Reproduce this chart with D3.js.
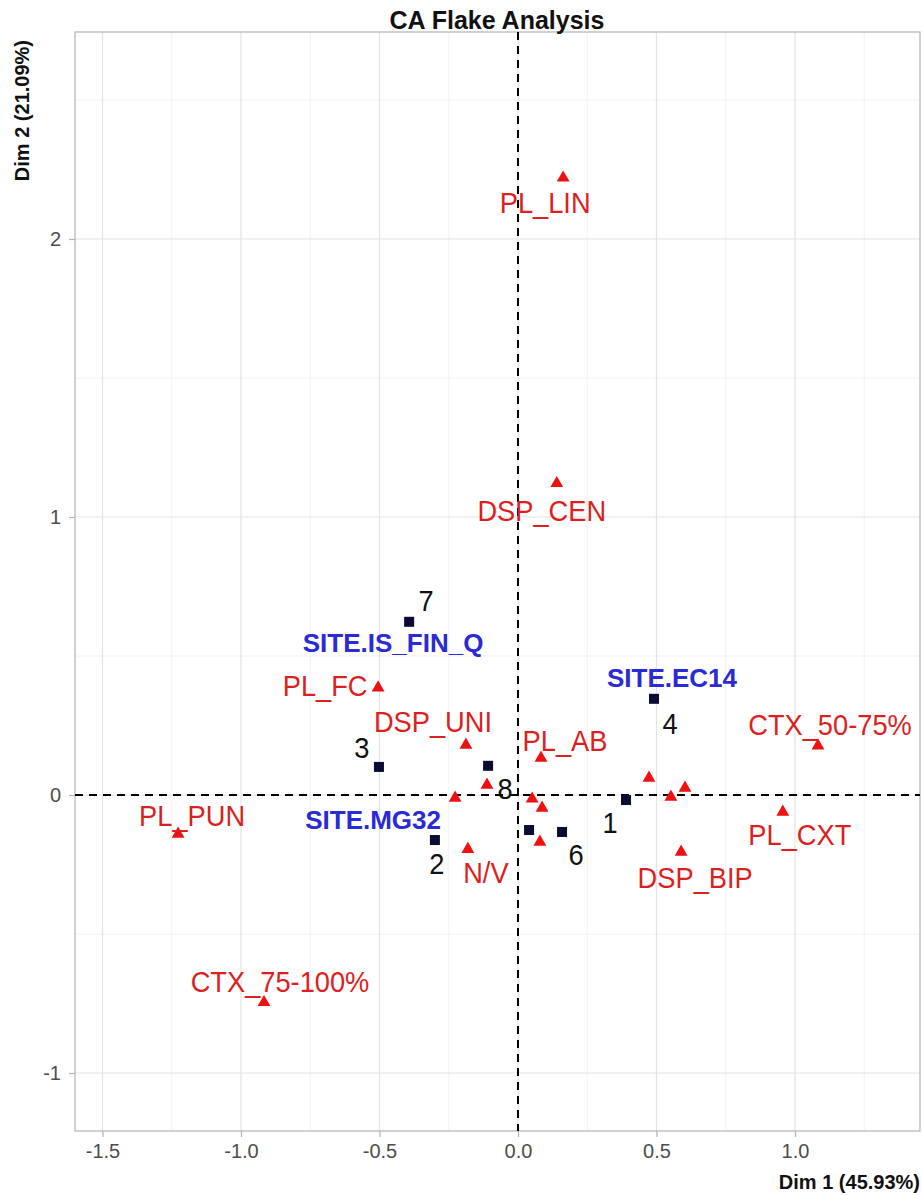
<!DOCTYPE html>
<html><head><meta charset="utf-8">
<script src="https://cdn.jsdelivr.net/npm/d3@7/dist/d3.min.js"></script>
<style>body{margin:0;background:#fff}svg{display:block}text{font-family:"Liberation Sans",Arial,sans-serif}</style>
</head><body>
<svg id="c" width="922" height="1195"></svg>
<script>
// Column categories (red triangles)
const colNames = ["PL_LIN","DSP_CEN","PL_FC","DSP_UNI","PL_AB","CTX_50-75%","PL_PUN","CTX_75-100%","PL_CXT","DSP_BIP","N/V","","","","","","","",""];
const colX = [0.163,0.140,-0.505,-0.188,0.083,1.083,-1.227,-0.917,0.956,0.589,-0.181,-0.227,-0.112,0.473,0.603,0.552,0.051,0.087,0.079];
const colY = [2.220,1.121,0.386,0.180,0.133,0.177,-0.140,-0.746,-0.061,-0.205,-0.195,-0.011,0.036,0.061,0.025,-0.007,-0.014,-0.047,-0.169];
// Row points (dark squares)
const rowNames = ["1","2","3","4","","6","7","8"];
const rowX = [0.390,-0.300,-0.502,0.491,0.040,0.159,-0.393,-0.108];
const rowY = [-0.018,-0.162,0.101,0.346,-0.126,-0.133,0.623,0.105];
// Site annotations
const siteNames = ["SITE.IS_FIN_Q","SITE.EC14","SITE.MG32"];
const siteX = [-0.451,0.556,-0.523];
const siteY = [0.548,0.422,-0.090];
// Tick labels
const xTicks = [-1.5,-1.0,-0.5,0.0,0.5,1.0];
const xTickLabels = ["-1.5","-1.0","-0.5","0.0","0.5","1.0"];
const yTicks = [-1,0,1,2];
const yTickLabels = ["-1","0","1","2"];
const xMinor = [-1.25,-0.75,-0.25,0.25,0.75,1.25];
const yMinor = [-0.5,0.5,1.5,2.5];

// label offsets in px (layout)
const colOff = {"PL_LIN":[-18,25],"DSP_CEN":[-15,27],"PL_FC":[-53,-2],"DSP_UNI":[-33,-23],"PL_AB":[24,-17],"CTX_50-75%":[12,-21],"PL_PUN":[14,-18],"CTX_75-100%":[16,-21],"PL_CXT":[17,23],"DSP_BIP":[14,26],"N/V":[18,23]};
const rowOff = {"1":[-16,23],"2":[2,24],"3":[-17,-19],"4":[16,25],"6":[14,23],"7":[17,-21],"8":[17,23]};

const L=75,R=920,T=32,B=1131;
const PX=277, X0=518, PY=278, Y0=795;
const x = d3.scaleLinear().domain([(L-X0)/PX,(R-X0)/PX]).range([L,R]);
const y = d3.scaleLinear().domain([(Y0-B)/PY,(Y0-T)/PY]).range([B,T]);
const svg = d3.select("#c");

// grid
const g = svg.append("g");
g.selectAll(".xm").data(xMinor).join("line").attr("x1",d=>x(d)).attr("x2",d=>x(d)).attr("y1",T).attr("y2",B).attr("stroke","#f2f2f2").attr("stroke-width",1);
g.selectAll(".ym").data(yMinor).join("line").attr("y1",d=>y(d)).attr("y2",d=>y(d)).attr("x1",L).attr("x2",R).attr("stroke","#f2f2f2").attr("stroke-width",1);
g.selectAll(".xM").data(xTicks).join("line").attr("x1",d=>x(d)).attr("x2",d=>x(d)).attr("y1",T).attr("y2",B).attr("stroke","#e3e3e3").attr("stroke-width",1.2);
g.selectAll(".yM").data(yTicks).join("line").attr("y1",d=>y(d)).attr("y2",d=>y(d)).attr("x1",L).attr("x2",R).attr("stroke","#e3e3e3").attr("stroke-width",1.2);

// axes
const xa = svg.append("g").attr("transform",`translate(0,${B})`)
  .call(d3.axisBottom(x).tickValues(xTicks).tickFormat((d,i)=>xTickLabels[i]).tickSize(6).tickPadding(7));
const ya = svg.append("g").attr("transform",`translate(${L},0)`)
  .call(d3.axisLeft(y).tickValues(yTicks).tickFormat((d,i)=>yTickLabels[i]).tickSize(6).tickPadding(8));
[xa,ya].forEach(a=>{a.select(".domain").remove();a.selectAll(".tick line").attr("stroke","#b3b3b3").attr("stroke-width",1.2);
  a.selectAll(".tick text").attr("fill","#4d4d4d").attr("font-size",20).style("font-family","Liberation Sans, Arial, sans-serif");});

// panel border
svg.append("rect").attr("x",L).attr("y",T).attr("width",R-L).attr("height",B-T).attr("fill","none").attr("stroke","#b3b3b3").attr("stroke-width",1.2);

// dashed zero lines
svg.append("line").attr("x1",x(0)).attr("x2",x(0)).attr("y1",T).attr("y2",B).attr("stroke","#000").attr("stroke-width",2).attr("stroke-dasharray","8,6");
svg.append("line").attr("y1",y(0)).attr("y2",y(0)).attr("x1",L).attr("x2",R).attr("stroke","#000").attr("stroke-width",2).attr("stroke-dasharray","8,6");

const SX = 0.94;
// column points
const tri = d3.symbol().type(d3.symbolTriangle).size(72);
svg.selectAll(".tri").data(colX).join("path").attr("d",tri)
  .attr("transform",(d,i)=>`translate(${x(d)},${y(colY[i])})`).attr("fill","#ee1111");
svg.selectAll(".cl").data(colNames.map((n,i)=>({n,i})).filter(d=>d.n)).join("text")
  .attr("transform",d=>`translate(${x(colX[d.i])+colOff[d.n][0]},${y(colY[d.i])+colOff[d.n][1]}) scale(${SX},1)`)
  .attr("dy","0.36em").attr("text-anchor","middle").attr("font-size",29).attr("fill","#dd1f1f").text(d=>d.n);

// row points
svg.selectAll(".sq").data(rowX).join("rect").attr("x",d=>x(d)-5).attr("y",(d,i)=>y(rowY[i])-5)
  .attr("width",10).attr("height",10).attr("fill","#0b0b33");
svg.selectAll(".rl").data(rowNames.map((n,i)=>({n,i})).filter(d=>d.n)).join("text")
  .attr("transform",d=>`translate(${x(rowX[d.i])+rowOff[d.n][0]},${y(rowY[d.i])+rowOff[d.n][1]}) scale(${SX},1)`)
  .attr("dy","0.36em").attr("text-anchor","middle").attr("font-size",29).attr("fill","#111").text(d=>d.n);

// site labels
svg.selectAll(".sl").data(siteNames).join("text").attr("x",(d,i)=>x(siteX[i])).attr("y",(d,i)=>y(siteY[i]))
  .attr("dy","0.36em").attr("text-anchor","middle").attr("font-size",26).attr("font-weight","bold").attr("fill","#2a2ad6").text(d=>d);

// titles
svg.append("text").attr("x",497).attr("y",29).attr("text-anchor","middle").attr("font-size",25).attr("font-weight","bold").attr("fill","#111").text("CA Flake Analysis");
svg.append("text").attr("x",R).attr("y",1189).attr("text-anchor","end").attr("font-size",20).attr("font-weight","bold").attr("fill","#111").text("Dim 1 (45.93%)");
svg.append("text").attr("transform",`translate(29,${T+8}) rotate(-90)`).attr("text-anchor","end").attr("font-size",20).attr("font-weight","bold").attr("fill","#111").text("Dim 2 (21.09%)");
</script>
</body></html>
